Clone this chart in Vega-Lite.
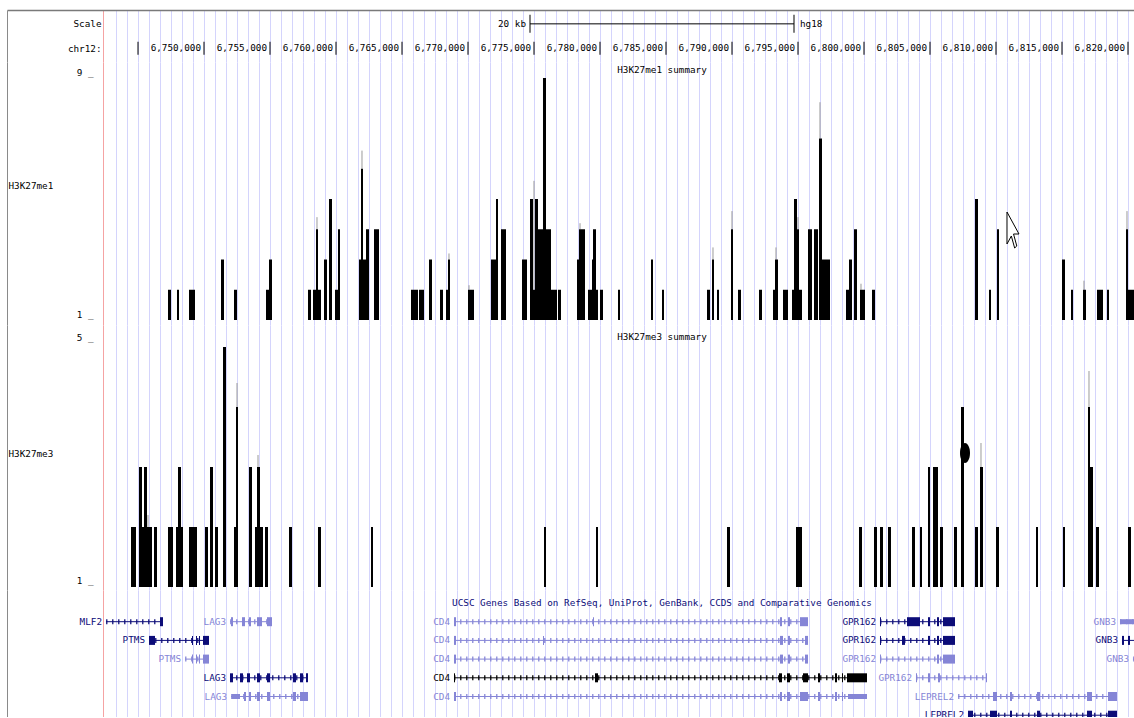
{
  "$schema": "https://vega.github.io/schema/vega-lite/v6.json",
  "background": "white",
  "padding": {"left": 7, "top": 10, "right": 0, "bottom": 0},
  "spacing": 0,
  "datasets": {
    "ruler": [
      {"start": 6745000, "label": "", "lane": "chr12:"},
      {"start": 6750000, "label": "6,750,000", "lane": "chr12:"},
      {"start": 6755000, "label": "6,755,000", "lane": "chr12:"},
      {"start": 6760000, "label": "6,760,000", "lane": "chr12:"},
      {"start": 6765000, "label": "6,765,000", "lane": "chr12:"},
      {"start": 6770000, "label": "6,770,000", "lane": "chr12:"},
      {"start": 6775000, "label": "6,775,000", "lane": "chr12:"},
      {"start": 6780000, "label": "6,780,000", "lane": "chr12:"},
      {"start": 6785000, "label": "6,785,000", "lane": "chr12:"},
      {"start": 6790000, "label": "6,790,000", "lane": "chr12:"},
      {"start": 6795000, "label": "6,795,000", "lane": "chr12:"},
      {"start": 6800000, "label": "6,800,000", "lane": "chr12:"},
      {"start": 6805000, "label": "6,805,000", "lane": "chr12:"},
      {"start": 6810000, "label": "6,810,000", "lane": "chr12:"},
      {"start": 6815000, "label": "6,815,000", "lane": "chr12:"},
      {"start": 6820000, "label": "6,820,000", "lane": "chr12:"}
    ],
    "scalebar": [
      {"start": 6774697, "end": 6794697, "lane": "Scale", "span": "20 kb", "assembly": "hg18"}
    ],
    "track1": [
      {"start": 6747272, "end": 6747500, "value": 2},
      {"start": 6747954, "end": 6748106, "value": 2},
      {"start": 6748863, "end": 6749318, "value": 2},
      {"start": 6751287, "end": 6751515, "value": 3},
      {"start": 6752272, "end": 6752500, "value": 2},
      {"start": 6754697, "end": 6754924, "value": 2},
      {"start": 6754924, "end": 6755151, "value": 3},
      {"start": 6757878, "end": 6758106, "value": 2},
      {"start": 6758257, "end": 6758863, "value": 2},
      {"start": 6758484, "end": 6758636, "value": 4, "max": 4.4},
      {"start": 6759090, "end": 6759318, "value": 3},
      {"start": 6759469, "end": 6759697, "value": 5},
      {"start": 6759924, "end": 6760151, "value": 2},
      {"start": 6760151, "end": 6760303, "value": 4},
      {"start": 6761742, "end": 6761893, "value": 3},
      {"start": 6761893, "end": 6762045, "value": 6, "max": 6.6},
      {"start": 6762045, "end": 6762272, "value": 3},
      {"start": 6762272, "end": 6762500, "value": 4},
      {"start": 6762878, "end": 6763257, "value": 4},
      {"start": 6765681, "end": 6766212, "value": 2},
      {"start": 6766287, "end": 6766666, "value": 2},
      {"start": 6767045, "end": 6767272, "value": 3},
      {"start": 6767878, "end": 6768106, "value": 2},
      {"start": 6768333, "end": 6768484, "value": 2},
      {"start": 6768484, "end": 6768636, "value": 3, "max": 3.2},
      {"start": 6770000, "end": 6770454, "value": 2, "max": 2.15},
      {"start": 6771742, "end": 6772121, "value": 3},
      {"start": 6772121, "end": 6772272, "value": 5},
      {"start": 6772500, "end": 6772878, "value": 4},
      {"start": 6774090, "end": 6774469, "value": 3},
      {"start": 6774697, "end": 6774924, "value": 5},
      {"start": 6774924, "end": 6775075, "value": 2, "max": 5.6},
      {"start": 6775075, "end": 6775303, "value": 5},
      {"start": 6775227, "end": 6775681, "value": 4},
      {"start": 6775681, "end": 6775909, "value": 9},
      {"start": 6775833, "end": 6776060, "value": 4},
      {"start": 6776060, "end": 6776287, "value": 4},
      {"start": 6776287, "end": 6776439, "value": 2},
      {"start": 6776439, "end": 6776742, "value": 2},
      {"start": 6776818, "end": 6777045, "value": 2},
      {"start": 6778257, "end": 6778409, "value": 3},
      {"start": 6778409, "end": 6778636, "value": 4, "max": 4.2},
      {"start": 6778636, "end": 6778863, "value": 4},
      {"start": 6779090, "end": 6779393, "value": 2},
      {"start": 6779393, "end": 6779545, "value": 3},
      {"start": 6779469, "end": 6779697, "value": 4},
      {"start": 6779697, "end": 6779848, "value": 2},
      {"start": 6780000, "end": 6780227, "value": 2},
      {"start": 6781363, "end": 6781515, "value": 2},
      {"start": 6783863, "end": 6784015, "value": 3},
      {"start": 6784697, "end": 6784848, "value": 2},
      {"start": 6788106, "end": 6788333, "value": 2},
      {"start": 6788484, "end": 6788636, "value": 3, "max": 3.4},
      {"start": 6788863, "end": 6789015, "value": 2},
      {"start": 6789924, "end": 6790075, "value": 4, "max": 4.6},
      {"start": 6790454, "end": 6790681, "value": 2},
      {"start": 6792045, "end": 6792272, "value": 2},
      {"start": 6793106, "end": 6793257, "value": 2},
      {"start": 6793257, "end": 6793484, "value": 3, "max": 3.4},
      {"start": 6793863, "end": 6794242, "value": 2},
      {"start": 6794545, "end": 6794697, "value": 2},
      {"start": 6794697, "end": 6794924, "value": 5},
      {"start": 6794924, "end": 6795075, "value": 4, "max": 4.4},
      {"start": 6795075, "end": 6795303, "value": 2},
      {"start": 6795757, "end": 6796060, "value": 4},
      {"start": 6796212, "end": 6796515, "value": 4},
      {"start": 6796590, "end": 6796818, "value": 7, "max": 8.2},
      {"start": 6796742, "end": 6797424, "value": 3},
      {"start": 6798636, "end": 6798939, "value": 2},
      {"start": 6798863, "end": 6799090, "value": 3},
      {"start": 6799242, "end": 6799469, "value": 4},
      {"start": 6799697, "end": 6800075, "value": 2, "max": 2.2},
      {"start": 6800606, "end": 6800833, "value": 2},
      {"start": 6808409, "end": 6808636, "value": 5},
      {"start": 6809469, "end": 6809621, "value": 2},
      {"start": 6810075, "end": 6810227, "value": 4},
      {"start": 6815000, "end": 6815227, "value": 3},
      {"start": 6815681, "end": 6815833, "value": 2},
      {"start": 6816590, "end": 6816818, "value": 2, "max": 2.3},
      {"start": 6817651, "end": 6818106, "value": 2},
      {"start": 6818409, "end": 6818560, "value": 2},
      {"start": 6819848, "end": 6820000, "value": 4, "max": 4.6},
      {"start": 6820000, "end": 6820454, "value": 2}
    ],
    "dash1": [
      {"start": 6743106, "end": 6743333}, {"start": 6743484, "end": 6743787},
      {"start": 6744318, "end": 6744545}, {"start": 6744697, "end": 6744924},
      {"start": 6745075, "end": 6745303}, {"start": 6745454, "end": 6745681},
      {"start": 6746818, "end": 6746969}, {"start": 6748181, "end": 6748333},
      {"start": 6748484, "end": 6748712}, {"start": 6749318, "end": 6749469},
      {"start": 6750075, "end": 6750227}, {"start": 6750606, "end": 6751439},
      {"start": 6751969, "end": 6752121}, {"start": 6753484, "end": 6753863},
      {"start": 6755227, "end": 6756515}, {"start": 6756893, "end": 6757121},
      {"start": 6757272, "end": 6757500}, {"start": 6760681, "end": 6761060},
      {"start": 6761590, "end": 6761818}, {"start": 6762727, "end": 6763560},
      {"start": 6764469, "end": 6765000}, {"start": 6766742, "end": 6766893},
      {"start": 6767348, "end": 6767500}, {"start": 6768636, "end": 6768863},
      {"start": 6769166, "end": 6769318}, {"start": 6769621, "end": 6770000},
      {"start": 6770909, "end": 6771136}, {"start": 6771287, "end": 6771666},
      {"start": 6773030, "end": 6773181}, {"start": 6773712, "end": 6774090},
      {"start": 6776212, "end": 6777500}, {"start": 6780227, "end": 6780378},
      {"start": 6781287, "end": 6781515}, {"start": 6782424, "end": 6782575},
      {"start": 6782878, "end": 6783030}, {"start": 6783257, "end": 6783484},
      {"start": 6784545, "end": 6784772}, {"start": 6785303, "end": 6786060},
      {"start": 6786590, "end": 6786818}, {"start": 6787727, "end": 6788106},
      {"start": 6789090, "end": 6789318}, {"start": 6789697, "end": 6790454},
      {"start": 6790757, "end": 6791136}, {"start": 6791363, "end": 6791742},
      {"start": 6792727, "end": 6793106}, {"start": 6797424, "end": 6798333},
      {"start": 6800075, "end": 6800833}, {"start": 6801818, "end": 6802878},
      {"start": 6803484, "end": 6803636}, {"start": 6805227, "end": 6805984},
      {"start": 6806287, "end": 6806515}, {"start": 6807878, "end": 6808409},
      {"start": 6808636, "end": 6809318}, {"start": 6810227, "end": 6810909},
      {"start": 6811590, "end": 6811742}, {"start": 6814772, "end": 6815075},
      {"start": 6815378, "end": 6815606}, {"start": 6816136, "end": 6816590},
      {"start": 6816893, "end": 6817272}, {"start": 6818106, "end": 6818409},
      {"start": 6819545, "end": 6819924}
    ],
    "track2": [
      {"start": 6744469, "end": 6744848, "value": 2},
      {"start": 6745075, "end": 6745303, "value": 3},
      {"start": 6745303, "end": 6745454, "value": 2},
      {"start": 6745454, "end": 6745681, "value": 3},
      {"start": 6745681, "end": 6745833, "value": 2, "max": 2.2},
      {"start": 6745833, "end": 6746060, "value": 2},
      {"start": 6746212, "end": 6746439, "value": 2},
      {"start": 6747272, "end": 6747651, "value": 2},
      {"start": 6747878, "end": 6748030, "value": 2},
      {"start": 6748030, "end": 6748257, "value": 3},
      {"start": 6748257, "end": 6748409, "value": 2},
      {"start": 6748863, "end": 6749469, "value": 2},
      {"start": 6750075, "end": 6750303, "value": 2},
      {"start": 6750454, "end": 6750681, "value": 3},
      {"start": 6750833, "end": 6751060, "value": 2},
      {"start": 6751439, "end": 6751666, "value": 5},
      {"start": 6752272, "end": 6752424, "value": 2},
      {"start": 6752424, "end": 6752575, "value": 4, "max": 4.4},
      {"start": 6753409, "end": 6753636, "value": 3},
      {"start": 6753863, "end": 6754015, "value": 2},
      {"start": 6754015, "end": 6754242, "value": 3, "max": 3.2},
      {"start": 6754242, "end": 6754469, "value": 2},
      {"start": 6754621, "end": 6754848, "value": 2},
      {"start": 6756439, "end": 6756666, "value": 2},
      {"start": 6758636, "end": 6758863, "value": 2},
      {"start": 6762651, "end": 6762803, "value": 2},
      {"start": 6775757, "end": 6775909, "value": 2},
      {"start": 6779697, "end": 6779848, "value": 2},
      {"start": 6789621, "end": 6789848, "value": 2},
      {"start": 6794848, "end": 6795303, "value": 2},
      {"start": 6799621, "end": 6799848, "value": 2},
      {"start": 6800757, "end": 6800984, "value": 2},
      {"start": 6801212, "end": 6801439, "value": 2},
      {"start": 6801818, "end": 6802045, "value": 2},
      {"start": 6803636, "end": 6803863, "value": 2},
      {"start": 6804242, "end": 6804393, "value": 2},
      {"start": 6804848, "end": 6805000, "value": 3},
      {"start": 6805227, "end": 6805606, "value": 3},
      {"start": 6805757, "end": 6805984, "value": 2},
      {"start": 6806818, "end": 6807045, "value": 2},
      {"start": 6807348, "end": 6807575, "value": 4},
      {"start": 6808409, "end": 6808636, "value": 2},
      {"start": 6808787, "end": 6809015, "value": 3, "max": 3.4},
      {"start": 6810000, "end": 6810227, "value": 2},
      {"start": 6813030, "end": 6813181, "value": 2},
      {"start": 6815075, "end": 6815227, "value": 2},
      {"start": 6816969, "end": 6817121, "value": 4, "max": 4.6},
      {"start": 6817121, "end": 6817348, "value": 3},
      {"start": 6817575, "end": 6817803, "value": 2},
      {"start": 6820000, "end": 6820227, "value": 2}
    ],
    "dash2": [
      {"start": 6742878, "end": 6743257}, {"start": 6744090, "end": 6744545},
      {"start": 6746136, "end": 6746515}, {"start": 6747197, "end": 6747424},
      {"start": 6747651, "end": 6747954}, {"start": 6748560, "end": 6748787},
      {"start": 6749469, "end": 6749697}, {"start": 6749924, "end": 6750151},
      {"start": 6751060, "end": 6751515}, {"start": 6752197, "end": 6752954},
      {"start": 6753257, "end": 6753484}, {"start": 6754469, "end": 6755000},
      {"start": 6755530, "end": 6755757}, {"start": 6756136, "end": 6756363},
      {"start": 6757045, "end": 6757272}, {"start": 6757424, "end": 6757575},
      {"start": 6758030, "end": 6758560}, {"start": 6758939, "end": 6759090},
      {"start": 6760303, "end": 6760454}, {"start": 6764697, "end": 6764848},
      {"start": 6765833, "end": 6766590}, {"start": 6768863, "end": 6769090},
      {"start": 6771515, "end": 6771666}, {"start": 6773939, "end": 6774318},
      {"start": 6775454, "end": 6776060}, {"start": 6776969, "end": 6777348},
      {"start": 6778484, "end": 6778712}, {"start": 6781893, "end": 6782121},
      {"start": 6783030, "end": 6783787}, {"start": 6785454, "end": 6786060},
      {"start": 6787575, "end": 6787954}, {"start": 6788939, "end": 6789242},
      {"start": 6790227, "end": 6790757}, {"start": 6792727, "end": 6793030},
      {"start": 6793257, "end": 6793484}, {"start": 6793787, "end": 6794015},
      {"start": 6794393, "end": 6794772}, {"start": 6796439, "end": 6796666},
      {"start": 6797045, "end": 6797272}, {"start": 6798333, "end": 6798560},
      {"start": 6798939, "end": 6799545}, {"start": 6799924, "end": 6800681},
      {"start": 6801439, "end": 6801742}, {"start": 6802575, "end": 6803333},
      {"start": 6803484, "end": 6804242}, {"start": 6806363, "end": 6807272},
      {"start": 6808030, "end": 6808257}, {"start": 6809545, "end": 6809772},
      {"start": 6811212, "end": 6811818}, {"start": 6813560, "end": 6813863},
      {"start": 6814242, "end": 6814697}, {"start": 6815757, "end": 6816742},
      {"start": 6817727, "end": 6818257}, {"start": 6819166, "end": 6820000}
    ],
    "genes": [
      {"name": "MLF2", "row": 1, "status": "reviewed", "start": 6742575, "end": 6746893},
      {"name": "LAG3", "row": 1, "status": "provisional", "start": 6751969, "end": 6755151},
      {"name": "CD4", "row": 1, "status": "provisional", "start": 6768939, "end": 6795757},
      {"name": "GPR162", "row": 1, "status": "reviewed", "start": 6801212, "end": 6806893},
      {"name": "GNB3", "row": 1, "status": "provisional", "start": 6819393, "end": 6820455},
      {"name": "PTMS", "row": 2, "status": "reviewed", "start": 6745833, "end": 6750378},
      {"name": "CD4", "row": 2, "status": "provisional", "start": 6768939, "end": 6795757},
      {"name": "GPR162", "row": 2, "status": "reviewed", "start": 6801212, "end": 6806893},
      {"name": "GNB3", "row": 2, "status": "reviewed", "start": 6819545, "end": 6820455},
      {"name": "PTMS", "row": 3, "status": "provisional", "start": 6748560, "end": 6750378},
      {"name": "CD4", "row": 3, "status": "provisional", "start": 6768939, "end": 6795757},
      {"name": "GPR162", "row": 3, "status": "provisional", "start": 6801212, "end": 6806893},
      {"name": "GNB3", "row": 3, "status": "provisional", "start": 6820378, "end": 6820455},
      {"name": "LAG3", "row": 4, "status": "reviewed", "start": 6751969, "end": 6757878},
      {"name": "CD4", "row": 4, "status": "selected", "start": 6768939, "end": 6800227},
      {"name": "GPR162", "row": 4, "status": "provisional", "start": 6803939, "end": 6809318},
      {"name": "LAG3", "row": 5, "status": "provisional", "start": 6752045, "end": 6757878},
      {"name": "CD4", "row": 5, "status": "provisional", "start": 6768939, "end": 6800227},
      {"name": "LEPREL2", "row": 5, "status": "provisional", "start": 6807121, "end": 6819166},
      {"name": "LEPREL2", "row": 6, "status": "reviewed", "start": 6807878, "end": 6819166}
    ],
    "exons": [
      {"gene": "MLF2", "row": 1, "status": "reviewed", "start": 6746666, "end": 6746893, "part": "cds"},
      {"gene": "LAG3", "row": 1, "status": "provisional", "start": 6752045, "end": 6752197, "part": "cds"},
      {"gene": "LAG3", "row": 1, "status": "provisional", "start": 6752878, "end": 6753106, "part": "cds"},
      {"gene": "LAG3", "row": 1, "status": "provisional", "start": 6753409, "end": 6753560, "part": "cds"},
      {"gene": "LAG3", "row": 1, "status": "provisional", "start": 6754015, "end": 6754393, "part": "cds"},
      {"gene": "LAG3", "row": 1, "status": "provisional", "start": 6754772, "end": 6755151, "part": "cds"},
      {"gene": "CD4", "row": 1, "status": "provisional", "start": 6768939, "end": 6769090, "part": "cds"},
      {"gene": "CD4", "row": 1, "status": "provisional", "start": 6779469, "end": 6779545, "part": "cds"},
      {"gene": "CD4", "row": 1, "status": "provisional", "start": 6793636, "end": 6793787, "part": "cds"},
      {"gene": "CD4", "row": 1, "status": "provisional", "start": 6794242, "end": 6794393, "part": "cds"},
      {"gene": "CD4", "row": 1, "status": "provisional", "start": 6795151, "end": 6795757, "part": "cds"},
      {"gene": "GPR162", "row": 1, "status": "reviewed", "start": 6801212, "end": 6801287, "part": "cds"},
      {"gene": "GPR162", "row": 1, "status": "reviewed", "start": 6803257, "end": 6804242, "part": "cds"},
      {"gene": "GPR162", "row": 1, "status": "reviewed", "start": 6804848, "end": 6805000, "part": "cds"},
      {"gene": "GPR162", "row": 1, "status": "reviewed", "start": 6805530, "end": 6805681, "part": "cds"},
      {"gene": "GPR162", "row": 1, "status": "reviewed", "start": 6805984, "end": 6806893, "part": "cds"},
      {"gene": "GNB3", "row": 1, "status": "provisional", "start": 6819393, "end": 6820455, "part": "utr"},
      {"gene": "PTMS", "row": 2, "status": "reviewed", "start": 6745833, "end": 6746287, "part": "cds"},
      {"gene": "PTMS", "row": 2, "status": "reviewed", "start": 6749090, "end": 6749166, "part": "cds"},
      {"gene": "PTMS", "row": 2, "status": "reviewed", "start": 6749393, "end": 6749469, "part": "cds"},
      {"gene": "PTMS", "row": 2, "status": "reviewed", "start": 6749621, "end": 6749697, "part": "cds"},
      {"gene": "PTMS", "row": 2, "status": "reviewed", "start": 6749924, "end": 6750378, "part": "cds"},
      {"gene": "CD4", "row": 2, "status": "provisional", "start": 6768939, "end": 6769090, "part": "cds"},
      {"gene": "CD4", "row": 2, "status": "provisional", "start": 6775681, "end": 6775757, "part": "cds"},
      {"gene": "CD4", "row": 2, "status": "provisional", "start": 6793636, "end": 6793863, "part": "cds"},
      {"gene": "CD4", "row": 2, "status": "provisional", "start": 6794242, "end": 6794393, "part": "cds"},
      {"gene": "CD4", "row": 2, "status": "provisional", "start": 6795530, "end": 6795757, "part": "cds"},
      {"gene": "GPR162", "row": 2, "status": "reviewed", "start": 6801212, "end": 6801287, "part": "cds"},
      {"gene": "GPR162", "row": 2, "status": "reviewed", "start": 6802878, "end": 6803106, "part": "cds"},
      {"gene": "GPR162", "row": 2, "status": "reviewed", "start": 6804848, "end": 6805000, "part": "cds"},
      {"gene": "GPR162", "row": 2, "status": "reviewed", "start": 6805530, "end": 6805681, "part": "cds"},
      {"gene": "GPR162", "row": 2, "status": "reviewed", "start": 6805984, "end": 6806893, "part": "cds"},
      {"gene": "GNB3", "row": 2, "status": "reviewed", "start": 6819545, "end": 6819697, "part": "cds"},
      {"gene": "GNB3", "row": 2, "status": "reviewed", "start": 6820000, "end": 6820151, "part": "cds"},
      {"gene": "PTMS", "row": 3, "status": "provisional", "start": 6749090, "end": 6749166, "part": "cds"},
      {"gene": "PTMS", "row": 3, "status": "provisional", "start": 6749393, "end": 6749469, "part": "cds"},
      {"gene": "PTMS", "row": 3, "status": "provisional", "start": 6749621, "end": 6749697, "part": "cds"},
      {"gene": "PTMS", "row": 3, "status": "provisional", "start": 6749924, "end": 6750378, "part": "cds"},
      {"gene": "CD4", "row": 3, "status": "provisional", "start": 6768939, "end": 6769090, "part": "cds"},
      {"gene": "CD4", "row": 3, "status": "provisional", "start": 6793636, "end": 6793863, "part": "cds"},
      {"gene": "CD4", "row": 3, "status": "provisional", "start": 6794242, "end": 6794393, "part": "cds"},
      {"gene": "CD4", "row": 3, "status": "provisional", "start": 6795530, "end": 6795757, "part": "cds"},
      {"gene": "GPR162", "row": 3, "status": "provisional", "start": 6801212, "end": 6801287, "part": "cds"},
      {"gene": "GPR162", "row": 3, "status": "provisional", "start": 6805530, "end": 6805681, "part": "cds"},
      {"gene": "GPR162", "row": 3, "status": "provisional", "start": 6805984, "end": 6806893, "part": "cds"},
      {"gene": "LAG3", "row": 4, "status": "reviewed", "start": 6751969, "end": 6752197, "part": "cds"},
      {"gene": "LAG3", "row": 4, "status": "reviewed", "start": 6752727, "end": 6752954, "part": "cds"},
      {"gene": "LAG3", "row": 4, "status": "reviewed", "start": 6753257, "end": 6753484, "part": "cds"},
      {"gene": "LAG3", "row": 4, "status": "reviewed", "start": 6754015, "end": 6754242, "part": "cds"},
      {"gene": "LAG3", "row": 4, "status": "reviewed", "start": 6754772, "end": 6755000, "part": "cds"},
      {"gene": "LAG3", "row": 4, "status": "reviewed", "start": 6756742, "end": 6756969, "part": "cds"},
      {"gene": "LAG3", "row": 4, "status": "reviewed", "start": 6757272, "end": 6757500, "part": "cds"},
      {"gene": "LAG3", "row": 4, "status": "reviewed", "start": 6757727, "end": 6757878, "part": "cds"},
      {"gene": "CD4", "row": 4, "status": "selected", "start": 6768939, "end": 6769015, "part": "cds"},
      {"gene": "CD4", "row": 4, "status": "selected", "start": 6779621, "end": 6779848, "part": "cds"},
      {"gene": "CD4", "row": 4, "status": "selected", "start": 6793560, "end": 6793787, "part": "cds"},
      {"gene": "CD4", "row": 4, "status": "selected", "start": 6794166, "end": 6794393, "part": "cds"},
      {"gene": "CD4", "row": 4, "status": "selected", "start": 6795378, "end": 6795757, "part": "cds"},
      {"gene": "CD4", "row": 4, "status": "selected", "start": 6796515, "end": 6796666, "part": "cds"},
      {"gene": "CD4", "row": 4, "status": "selected", "start": 6797803, "end": 6797954, "part": "cds"},
      {"gene": "CD4", "row": 4, "status": "selected", "start": 6798333, "end": 6798409, "part": "cds"},
      {"gene": "CD4", "row": 4, "status": "selected", "start": 6798712, "end": 6800227, "part": "cds"},
      {"gene": "GPR162", "row": 4, "status": "provisional", "start": 6803939, "end": 6804015, "part": "cds"},
      {"gene": "GPR162", "row": 4, "status": "provisional", "start": 6804848, "end": 6805000, "part": "cds"},
      {"gene": "GPR162", "row": 4, "status": "provisional", "start": 6805606, "end": 6805757, "part": "cds"},
      {"gene": "GPR162", "row": 4, "status": "provisional", "start": 6809242, "end": 6809318, "part": "cds"},
      {"gene": "LAG3", "row": 5, "status": "provisional", "start": 6752121, "end": 6752727, "part": "utr"},
      {"gene": "LAG3", "row": 5, "status": "provisional", "start": 6753030, "end": 6753181, "part": "cds"},
      {"gene": "LAG3", "row": 5, "status": "provisional", "start": 6753409, "end": 6753560, "part": "cds"},
      {"gene": "LAG3", "row": 5, "status": "provisional", "start": 6754015, "end": 6754242, "part": "cds"},
      {"gene": "LAG3", "row": 5, "status": "provisional", "start": 6754772, "end": 6755000, "part": "cds"},
      {"gene": "LAG3", "row": 5, "status": "provisional", "start": 6756742, "end": 6756969, "part": "cds"},
      {"gene": "LAG3", "row": 5, "status": "provisional", "start": 6757272, "end": 6757878, "part": "cds"},
      {"gene": "CD4", "row": 5, "status": "provisional", "start": 6768939, "end": 6769090, "part": "cds"},
      {"gene": "CD4", "row": 5, "status": "provisional", "start": 6793636, "end": 6793787, "part": "cds"},
      {"gene": "CD4", "row": 5, "status": "provisional", "start": 6794166, "end": 6794393, "part": "cds"},
      {"gene": "CD4", "row": 5, "status": "provisional", "start": 6795151, "end": 6795757, "part": "cds"},
      {"gene": "CD4", "row": 5, "status": "provisional", "start": 6796515, "end": 6796666, "part": "cds"},
      {"gene": "CD4", "row": 5, "status": "provisional", "start": 6797803, "end": 6797954, "part": "cds"},
      {"gene": "CD4", "row": 5, "status": "provisional", "start": 6798333, "end": 6798409, "part": "cds"},
      {"gene": "CD4", "row": 5, "status": "provisional", "start": 6798787, "end": 6800227, "part": "utr"},
      {"gene": "LEPREL2", "row": 5, "status": "provisional", "start": 6809772, "end": 6810075, "part": "cds"},
      {"gene": "LEPREL2", "row": 5, "status": "provisional", "start": 6811060, "end": 6811212, "part": "cds"},
      {"gene": "LEPREL2", "row": 5, "status": "provisional", "start": 6813106, "end": 6813333, "part": "cds"},
      {"gene": "LEPREL2", "row": 5, "status": "provisional", "start": 6816893, "end": 6817272, "part": "cds"},
      {"gene": "LEPREL2", "row": 5, "status": "provisional", "start": 6818484, "end": 6819166, "part": "cds"},
      {"gene": "LEPREL2", "row": 6, "status": "reviewed", "start": 6807878, "end": 6808257, "part": "cds"},
      {"gene": "LEPREL2", "row": 6, "status": "reviewed", "start": 6809545, "end": 6810075, "part": "cds"},
      {"gene": "LEPREL2", "row": 6, "status": "reviewed", "start": 6811060, "end": 6811212, "part": "cds"},
      {"gene": "LEPREL2", "row": 6, "status": "reviewed", "start": 6813106, "end": 6813333, "part": "cds"},
      {"gene": "LEPREL2", "row": 6, "status": "reviewed", "start": 6816893, "end": 6817272, "part": "cds"},
      {"gene": "LEPREL2", "row": 6, "status": "reviewed", "start": 6818484, "end": 6819166, "part": "cds"}
    ]
  },
  "vconcat": [
    {
      "width": 1127,
      "height": 52,
      "encoding": {
        "x": {
          "field": "start", "type": "quantitative",
          "scale": {"domain": [6735075, 6820455], "nice": false, "zero": false},
          "axis": {
            "orient": "top", "title": null, "labels": false, "ticks": false,
            "domain": true, "domainColor": "#7a7a7a", "domainWidth": 1.5,
            "grid": true, "gridWidth": 1,
            "gridColor": {"condition": {"test": "datum.value === 6742348", "value": "#f5a3a3"}, "value": "#d4d4fc"},
            "values": [6742348,6743333,6744167,6745000,6745833,6746667,6747500,6748333,6749167,6750000,6750833,6751667,6752500,6753333,6754167,6755000,6755833,6756667,6757500,6758333,6759167,6760000,6760833,6761667,6762500,6763333,6764167,6765000,6765833,6766667,6767500,6768333,6769167,6770000,6770833,6771667,6772500,6773333,6774167,6775000,6775833,6776667,6777500,6778333,6779167,6780000,6780833,6781667,6782500,6783333,6784167,6785000,6785833,6786667,6787500,6788333,6789167,6790000,6790833,6791667,6792500,6793333,6794167,6795000,6795833,6796667,6797500,6798333,6799167,6800000,6800833,6801667,6802500,6803333,6804167,6805000,6805833,6806667,6807500,6808333,6809167,6810000,6810833,6811667,6812500,6813333,6814167,6815000,6815833,6816667,6817500,6818333,6819167,6820000]
          }
        },
        "y": {
          "field": "lane", "type": "nominal",
          "scale": {"type": "point", "domain": ["Scale", "chr12:"], "padding": 0.57},
          "axis": {
            "title": null, "ticks": false, "labelPadding": -94, "labelAlign": "right",
            "labelBaseline": "middle", "labelAngle": 0,
            "domainColor": "#8a8a8a", "domainWidth": 1, "minExtent": 0, "maxExtent": 0
          }
        }
      },
      "layer": [
        {
          "data": {"name": "ruler"},
          "mark": {"type": "tick", "size": 13, "thickness": 1, "color": "#000000", "opacity": 1}
        },
        {
          "data": {"name": "ruler"},
          "mark": {"type": "text", "align": "right", "baseline": "middle", "dx": -3, "color": "#000000"},
          "encoding": {"text": {"field": "label"}}
        },
        {
          "data": {"name": "scalebar"},
          "mark": {"type": "rule", "color": "#000000", "strokeWidth": 1},
          "encoding": {"x2": {"field": "end"}}
        },
        {
          "data": {"name": "scalebar"},
          "mark": {"type": "tick", "size": 18, "thickness": 1, "color": "#000000", "opacity": 1}
        },
        {
          "data": {"name": "scalebar"},
          "mark": {"type": "tick", "size": 18, "thickness": 1, "color": "#000000", "opacity": 1},
          "encoding": {
            "x": {"field": "end", "type": "quantitative", "scale": {"domain": [6735075, 6820455], "nice": false, "zero": false}}
          }
        },
        {
          "data": {"name": "scalebar"},
          "mark": {"type": "text", "align": "right", "baseline": "middle", "dx": -4, "color": "#000000"},
          "encoding": {"text": {"field": "span"}}
        },
        {
          "data": {"name": "scalebar"},
          "mark": {"type": "text", "align": "left", "baseline": "middle", "dx": 6, "color": "#000000"},
          "encoding": {
            "x": {"field": "end", "type": "quantitative", "scale": {"domain": [6735075, 6820455], "nice": false, "zero": false}},
            "text": {"field": "assembly"}
          }
        }
      ]
    },
    {
      "width": 1127,
      "height": 263,
      "encoding": {
        "x": {
          "field": "start", "type": "quantitative",
          "scale": {"domain": [6735075, 6820455], "nice": false, "zero": false},
          "axis": {
            "orient": "bottom", "title": null, "labels": false, "ticks": false, "domain": false,
            "grid": true, "gridWidth": 1,
            "gridColor": {"condition": {"test": "datum.value === 6742348", "value": "#f5a3a3"}, "value": "#d4d4fc"},
            "values": [6742348,6743333,6744167,6745000,6745833,6746667,6747500,6748333,6749167,6750000,6750833,6751667,6752500,6753333,6754167,6755000,6755833,6756667,6757500,6758333,6759167,6760000,6760833,6761667,6762500,6763333,6764167,6765000,6765833,6766667,6767500,6768333,6769167,6770000,6770833,6771667,6772500,6773333,6774167,6775000,6775833,6776667,6777500,6778333,6779167,6780000,6780833,6781667,6782500,6783333,6784167,6785000,6785833,6786667,6787500,6788333,6789167,6790000,6790833,6791667,6792500,6793333,6794167,6795000,6795833,6796667,6797500,6798333,6799167,6800000,6800833,6801667,6802500,6803333,6804167,6805000,6805833,6806667,6807500,6808333,6809167,6810000,6810833,6811667,6812500,6813333,6814167,6815000,6815833,6816667,6817500,6818333,6819167,6820000]
          }
        },
        "y": {
          "field": "value", "type": "quantitative",
          "scale": {"domain": [0.835, 9.529], "nice": false, "zero": false},
          "axis": {
            "values": [1, 9], "labelExpr": "datum.value + ' _'", "ticks": false, "grid": false,
            "labelPadding": -86, "labelAlign": "right", "labelBaseline": "alphabetic", "labelOffset": -3,
            "domainColor": "#8a8a8a", "domainWidth": 1,
            "title": "H3K27me1", "titleAngle": 0, "titleAlign": "left", "titleBaseline": "middle",
            "titleX": 1, "titleY": 123, "minExtent": 0, "maxExtent": 0
          }
        }
      },
      "layer": [
        {
          "data": {"name": "dash1"},
          "mark": {"type": "rule", "color": "#8c8c8c", "strokeWidth": 1},
          "encoding": {"x2": {"field": "end"}, "y": {"datum": 1, "type": "quantitative"}}
        },
        {
          "data": {"name": "track1"},
          "transform": [{"filter": "isValid(datum.max)"}],
          "mark": {"type": "rule", "color": "#9a9a9a", "strokeWidth": 1, "xOffset": 1},
          "encoding": {"y2": {"field": "max"}}
        },
        {
          "data": {"name": "track1"},
          "mark": {"type": "rect", "color": "#000000", "clip": true},
          "encoding": {"x2": {"field": "end"}, "y2": {"datum": 1}}
        },
        {
          "data": {"values": [{"start": 6784697, "value": 9.264, "text": "H3K27me1 summary"}]},
          "mark": {"type": "text", "align": "center", "baseline": "middle", "color": "#000000"},
          "encoding": {"text": {"field": "text"}}
        },
        {
          "data": {"values": [{"start": 6810833, "value": 4.57}]},
          "mark": {
            "type": "point", "shape": "M0,0L0,6.4L0.87,4.8L1.53,7.2L1.96,6.8L1.31,4.4L2.4,4.4Z",
            "size": 100, "filled": true, "fill": "#ffffff", "stroke": "#000000", "strokeWidth": 1, "opacity": 1
          }
        }
      ]
    },
    {
      "width": 1127,
      "height": 265,
      "encoding": {
        "x": {
          "field": "start", "type": "quantitative",
          "scale": {"domain": [6735075, 6820455], "nice": false, "zero": false},
          "axis": {
            "orient": "bottom", "title": null, "labels": false, "ticks": false, "domain": false,
            "grid": true, "gridWidth": 1,
            "gridColor": {"condition": {"test": "datum.value === 6742348", "value": "#f5a3a3"}, "value": "#d4d4fc"},
            "values": [6742348,6743333,6744167,6745000,6745833,6746667,6747500,6748333,6749167,6750000,6750833,6751667,6752500,6753333,6754167,6755000,6755833,6756667,6757500,6758333,6759167,6760000,6760833,6761667,6762500,6763333,6764167,6765000,6765833,6766667,6767500,6768333,6769167,6770000,6770833,6771667,6772500,6773333,6774167,6775000,6775833,6776667,6777500,6778333,6779167,6780000,6780833,6781667,6782500,6783333,6784167,6785000,6785833,6786667,6787500,6788333,6789167,6790000,6790833,6791667,6792500,6793333,6794167,6795000,6795833,6796667,6797500,6798333,6799167,6800000,6800833,6801667,6802500,6803333,6804167,6805000,6805833,6806667,6807500,6808333,6809167,6810000,6810833,6811667,6812500,6813333,6814167,6815000,6815833,6816667,6817500,6818333,6819167,6820000]
          }
        },
        "y": {
          "field": "value", "type": "quantitative",
          "scale": {"domain": [0.95, 5.367], "nice": false, "zero": false},
          "axis": {
            "values": [1, 5], "labelExpr": "datum.value + ' _'", "ticks": false, "grid": false,
            "labelPadding": -86, "labelAlign": "right", "labelBaseline": "alphabetic",
            "labelOffset": {"condition": {"test": "datum.value === 5", "value": -7}, "value": -4},
            "domainColor": "#8a8a8a", "domainWidth": 1,
            "title": "H3K27me3", "titleAngle": 0, "titleAlign": "left", "titleBaseline": "middle",
            "titleX": 1, "titleY": 128, "minExtent": 0, "maxExtent": 0
          }
        }
      },
      "layer": [
        {
          "data": {"name": "dash2"},
          "mark": {"type": "rule", "color": "#8c8c8c", "strokeWidth": 1},
          "encoding": {"x2": {"field": "end"}, "y": {"datum": 1, "type": "quantitative"}}
        },
        {
          "data": {"name": "track2"},
          "transform": [{"filter": "isValid(datum.max)"}],
          "mark": {"type": "rule", "color": "#9a9a9a", "strokeWidth": 1, "xOffset": 1},
          "encoding": {"y2": {"field": "max"}}
        },
        {
          "data": {"name": "track2"},
          "mark": {"type": "rect", "color": "#000000", "clip": true},
          "encoding": {"x2": {"field": "end"}, "y2": {"datum": 1}}
        },
        {
          "data": {"values": [{"start": 6784697, "value": 5.167, "text": "H3K27me3 summary"}]},
          "mark": {"type": "text", "align": "center", "baseline": "middle", "color": "#000000"},
          "encoding": {"text": {"field": "text"}}
        },
        {
          "data": {"values": [{"start": 6807651, "value": 3.233}]},
          "mark": {
            "type": "point",
            "shape": "M0,-1C0.276,-1 0.5,-0.552 0.5,0C0.5,0.552 0.276,1 0,1C-0.276,1 -0.5,0.552 -0.5,0C-0.5,-0.552 -0.276,-1 0,-1Z",
            "size": 400, "filled": true, "color": "#000000", "opacity": 1
          }
        }
      ]
    },
    {
      "width": 1127,
      "height": 127,
      "encoding": {
        "x": {
          "field": "start", "type": "quantitative",
          "scale": {"domain": [6735075, 6820455], "nice": false, "zero": false},
          "axis": {
            "orient": "bottom", "title": null, "labels": false, "ticks": false, "domain": false,
            "grid": true, "gridWidth": 1,
            "gridColor": {"condition": {"test": "datum.value === 6742348", "value": "#f5a3a3"}, "value": "#d4d4fc"},
            "values": [6742348,6743333,6744167,6745000,6745833,6746667,6747500,6748333,6749167,6750000,6750833,6751667,6752500,6753333,6754167,6755000,6755833,6756667,6757500,6758333,6759167,6760000,6760833,6761667,6762500,6763333,6764167,6765000,6765833,6766667,6767500,6768333,6769167,6770000,6770833,6771667,6772500,6773333,6774167,6775000,6775833,6776667,6777500,6778333,6779167,6780000,6780833,6781667,6782500,6783333,6784167,6785000,6785833,6786667,6787500,6788333,6789167,6790000,6790833,6791667,6792500,6793333,6794167,6795000,6795833,6796667,6797500,6798333,6799167,6800000,6800833,6801667,6802500,6803333,6804167,6805000,6805833,6806667,6807500,6808333,6809167,6810000,6810833,6811667,6812500,6813333,6814167,6815000,6815833,6816667,6817500,6818333,6819167,6820000]
          }
        },
        "y": {
          "field": "row", "type": "quantitative",
          "scale": {"domain": [-0.695, 6.096], "reverse": true, "nice": false, "zero": false},
          "axis": {
            "title": null, "labels": false, "ticks": false, "grid": false,
            "domainColor": "#8a8a8a", "domainWidth": 1, "minExtent": 0, "maxExtent": 0
          }
        },
        "color": {
          "field": "status", "type": "nominal",
          "scale": {"domain": ["reviewed", "provisional", "selected"], "range": ["#0c0c78", "#8585d6", "#000000"]},
          "legend": null
        }
      },
      "layer": [
        {
          "data": {"name": "genes"},
          "mark": {"type": "rule", "strokeWidth": 1, "clip": true},
          "encoding": {"x2": {"field": "end"}}
        },
        {
          "data": {"name": "genes"},
          "mark": {"type": "rule", "strokeWidth": 5, "strokeDash": [1.5, 4.5], "opacity": 0.85, "clip": true},
          "encoding": {"x2": {"field": "end"}}
        },
        {
          "data": {"name": "exons"},
          "mark": {"type": "rule", "clip": true},
          "encoding": {
            "x2": {"field": "end"},
            "strokeWidth": {"field": "part", "type": "nominal", "scale": {"domain": ["cds", "utr"], "range": [9, 5]}, "legend": null}
          }
        },
        {
          "data": {"name": "genes"},
          "transform": [{"filter": "datum.row <= 5"}],
          "mark": {"type": "text", "align": "right", "baseline": "middle", "dx": -4},
          "encoding": {"text": {"field": "name"}}
        },
        {
          "data": {"name": "genes"},
          "transform": [{"filter": "datum.row > 5"}],
          "mark": {"type": "text", "align": "right", "baseline": "middle", "dx": -4, "clip": true},
          "encoding": {"text": {"field": "name"}}
        },
        {
          "data": {"values": [{"start": 6784697, "row": 0, "text": "UCSC Genes Based on RefSeq, UniProt, GenBank, CCDS and Comparative Genomics"}]},
          "mark": {"type": "text", "align": "center", "baseline": "middle"},
          "encoding": {"text": {"field": "text"}, "color": {"value": "#0c0c78"}}
        }
      ]
    }
  ],
  "resolve": {
    "scale": {"x": "independent", "y": "independent"},
    "axis": {"x": "independent", "y": "independent"}
  },
  "config": {
    "font": "DejaVu Sans Mono",
    "view": {"stroke": null},
    "text": {"font": "DejaVu Sans Mono", "fontSize": 9.3},
    "axis": {
      "labelFont": "DejaVu Sans Mono", "labelFontSize": 9.3, "labelColor": "#000000",
      "titleFont": "DejaVu Sans Mono", "titleFontSize": 9.3, "titleFontWeight": "normal", "titleColor": "#000000"
    }
  }
}
